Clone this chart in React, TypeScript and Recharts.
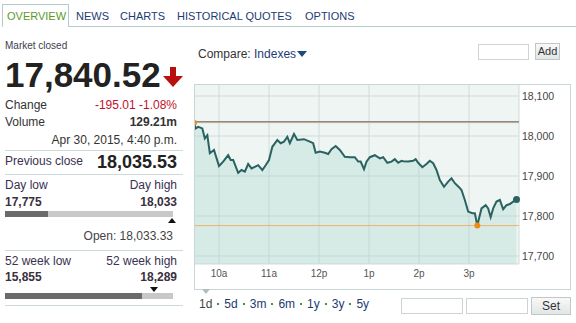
import React from "react";
import {
  AreaChart,
  Area,
  XAxis,
  YAxis,
  CartesianGrid,
  ReferenceLine,
  ReferenceDot,
} from "recharts";

// minutes after the 9:30 open
const minutes = [
  0, 2, 5, 10, 13, 16, 19, 24, 30, 35, 41, 44, 47, 53, 57, 61, 65, 69, 73, 77,
  82, 86, 90, 94, 100, 104, 108, 112, 115, 120, 124, 132, 139, 143, 146, 151,
  157, 161, 165, 170, 175, 181, 187, 193, 197, 200, 204, 207, 211, 217, 223,
  227, 232, 237, 241, 245, 249, 251, 257, 263, 266, 269, 274, 279, 283, 287,
  291, 295, 300, 305, 309, 313, 318, 321, 325, 329, 334, 337, 340, 342, 345,
  350, 353, 356, 359, 363, 367, 371, 375, 379, 383, 387,
];
const prices = [
  18033, 18019, 18023, 18019, 17994, 18002, 17957, 17965, 17925, 17936, 17952,
  17940, 17940, 17908, 17915, 17911, 17930, 17919, 17923, 17927, 17915, 17927,
  17940, 17973, 17990, 17982, 17986, 17998, 17982, 18005, 17990, 17992, 17986,
  17982, 17958, 17961, 17958, 17955, 17967, 17975, 17965, 17948, 17947, 17947,
  17936, 17936, 17917, 17936, 17947, 17952, 17944, 17947, 17933, 17936, 17942,
  17933, 17938, 17937, 17936, 17938, 17942, 17933, 17922, 17930, 17938, 17932,
  17915, 17890, 17873, 17886, 17894, 17882, 17872, 17865, 17840, 17811, 17807,
  17807, 17776, 17794, 17819, 17827, 17819, 17797, 17819, 17836, 17840, 17817,
  17827, 17830, 17836, 17841,
];

const timeTicks = [30, 90, 150, 210, 270, 330];
const timeLabels = ["10a", "11a", "12p", "1p", "2p", "3p"];
const priceTicks = [17700, 17800, 17900, 18000, 18100];

const previousClose = 18035.53;
const dayHigh = 18033.33;
const dayLow = 17776;
const lowMinute = 340;

const tabs = ["OVERVIEW", "NEWS", "CHARTS", "HISTORICAL QUOTES", "OPTIONS"];
const tabX = [7, 76, 120, 177, 305];
const ranges = ["1d", "5d", "3m", "6m", "1y", "3y", "5y"];

const FONT = '"Liberation Sans", Arial, sans-serif';

function T({
  x,
  r,
  y,
  size = 12,
  color = "#333",
  bold = false,
  children,
}: {
  x?: number;
  r?: number;
  y: number;
  size?: number;
  color?: string;
  bold?: boolean;
  children: React.ReactNode;
}) {
  const lh = Math.round(size * 1.2);
  const style: React.CSSProperties = {
    position: "absolute",
    top: y - lh / 2,
    lineHeight: lh + "px",
    fontSize: size,
    color,
    fontWeight: bold ? "bold" : "normal",
    whiteSpace: "nowrap",
  };
  if (r !== undefined) style.right = 576 - r;
  else style.left = x;
  return <div style={style}>{children}</div>;
}

function Rule({ y }: { y: number }) {
  return (
    <div
      style={{
        position: "absolute",
        left: 5,
        top: y,
        width: 178,
        height: 1,
        background: "#cddada",
      }}
    />
  );
}

export default function App() {
  const data = minutes.map((m, i) => ({ m, price: prices[i] }));
  const last = data[data.length - 1];

  return (
    <div
      style={{
        position: "absolute",
        left: 0,
        top: 0,
        width: 576,
        height: 323,
        background: "#fff",
        fontFamily: FONT,
        overflow: "hidden",
      }}
    >
      {/* Tabs */}
      <div
        style={{
          position: "absolute",
          left: 69,
          top: 26,
          width: 507,
          height: 1,
          background: "#b3cbcb",
        }}
      />
      <div
        style={{
          position: "absolute",
          left: 2,
          top: 4,
          width: 67,
          height: 23,
          boxSizing: "border-box",
          border: "1px solid #b3cbcb",
          borderBottom: "none",
          background: "#fff",
        }}
      />
      {tabs.map((t, i) => (
        <T key={t} x={tabX[i]} y={16} size={11} color={i === 0 ? "#5a9a2a" : "#1d3b72"}>
          {t}
        </T>
      ))}

      {/* Quote panel */}
      <T x={5} y={46} size={10} color="#3d3d50">
        Market closed
      </T>
      <T x={5} y={75} size={35} bold color="#222">
        17,840.52
      </T>
      <svg
        style={{ position: "absolute", left: 162, top: 66 }}
        width={22}
        height={22}
      >
        <rect x={8} y={1} width={6} height={11} fill="#b80f0f" />
        <polygon points="1,10 21,10 11,21" fill="#b80f0f" />
      </svg>
      <T x={5} y={105}>Change</T>
      <T r={177} y={105} color="#c4102c">
        -195.01 -1.08%
      </T>
      <T x={5} y={122}>Volume</T>
      <T r={177} y={122} bold>
        129.21m
      </T>
      <T r={177} y={140}>Apr 30, 2015, 4:40 p.m.</T>
      <Rule y={150} />
      <T x={5} y={161} color="#3a3050">
        Previous close
      </T>
      <T r={177} y={162} size={18} bold color="#222">
        18,035.53
      </T>
      <Rule y={174} />
      <T x={5} y={185} color="#3a3050">
        Day low
      </T>
      <T r={177} y={185} color="#3a3050">
        Day high
      </T>
      <T x={5} y={202} bold color="#3a3040">
        17,775
      </T>
      <T r={177} y={202} bold color="#3a3040">
        18,033
      </T>
      <div style={{ position: "absolute", left: 5, top: 211, width: 168, height: 6, background: "#c8c8c8" }} />
      <div style={{ position: "absolute", left: 5, top: 211, width: 43, height: 6, background: "#6a6a6a" }} />
      <svg style={{ position: "absolute", left: 167, top: 218 }} width={10} height={6}>
        <polygon points="1,5 9,5 5,0" fill="#111" />
      </svg>
      <T r={173} y={236} color="#444">
        Open: 18,033.33
      </T>
      <Rule y={250} />
      <T x={5} y={261} color="#3a3050">
        52 week low
      </T>
      <T r={177} y={261} color="#3a3050">
        52 week high
      </T>
      <T x={5} y={277} bold color="#3a3040">
        15,855
      </T>
      <T r={177} y={277} bold color="#3a3040">
        18,289
      </T>
      <svg style={{ position: "absolute", left: 149, top: 287 }} width={10} height={6}>
        <polygon points="1,0 9,0 5,5" fill="#111" />
      </svg>
      <div style={{ position: "absolute", left: 5, top: 293, width: 168, height: 6, background: "#c8c8c8" }} />
      <div style={{ position: "absolute", left: 5, top: 293, width: 137, height: 6, background: "#6a6a6a" }} />
      <Rule y={305} />

      {/* Compare controls */}
      <div
        style={{
          position: "absolute",
          left: 198,
          top: 47,
          fontSize: 12,
          lineHeight: "14px",
          color: "#333",
          whiteSpace: "nowrap",
        }}
      >
        Compare: <span style={{ color: "#1d3b72" }}>Indexes</span>
        <svg width={11} height={7} style={{ marginLeft: 1 }}>
          <polygon points="0,0 10,0 5,6" fill="#1d4a7a" />
        </svg>
      </div>
      <div
        style={{
          position: "absolute",
          left: 478,
          top: 44,
          width: 51,
          height: 16,
          boxSizing: "border-box",
          border: "1px solid #ccd4d4",
        }}
      />
      <div
        style={{
          position: "absolute",
          left: 535,
          top: 43,
          width: 25,
          height: 17,
          boxSizing: "border-box",
          border: "1px solid #c0c8c8",
          background: "linear-gradient(#f8f8f8, #e2e6e6)",
          fontSize: 11,
          lineHeight: "15px",
          textAlign: "center",
          color: "#333",
        }}
      >
        Add
      </div>

      {/* Chart */}
      <div style={{ position: "absolute", left: 194, top: 84 }}>
        <AreaChart
          width={376}
          height={205}
          data={data}
          margin={{ top: 0, right: 0, bottom: 0, left: 0 }}
        >
          <CartesianGrid stroke="#d0dcd9" fill="#eef5f2" />
          <XAxis
            dataKey="m"
            type="number"
            domain={[0, 390]}
            ticks={timeTicks}
            tickFormatter={(v: number) => timeLabels[timeTicks.indexOf(v)]}
            height={25}
            axisLine={false}
            tickLine={false}
            tickSize={0}
            tickMargin={6}
            tick={{ fontSize: 10, fill: "#555", fontFamily: FONT }}
          />
          <YAxis
            orientation="right"
            domain={[17680, 18130]}
            ticks={priceTicks}
            tickFormatter={(v: number) => v.toLocaleString("en-US")}
            width={51}
            axisLine={false}
            tickLine={false}
            tickSize={0}
            tickMargin={3}
            tick={{ fontSize: 10.5, fill: "#444", fontFamily: FONT }}
          />
          <Area
            type="linear"
            dataKey="price"
            stroke="#2a6262"
            strokeWidth={2}
            fill="rgb(168,214,208)"
            fillOpacity={0.35}
            isAnimationActive={false}
            dot={false}
            activeDot={false}
          />
          <ReferenceLine y={dayHigh} stroke="#f0b462" strokeWidth={1} strokeOpacity={0.6} />
          <ReferenceLine y={previousClose} stroke="#8a8a8a" strokeWidth={1.5} />
          <ReferenceLine y={dayLow} stroke="#f0b462" strokeWidth={1} />
          <ReferenceDot x={0} y={prices[0]} r={3} fill="#f08a10" stroke="none" />
          <ReferenceDot x={lowMinute} y={dayLow} r={3} fill="#f08a10" stroke="none" />
          <ReferenceDot x={last.m} y={last.price} r={3.5} fill="#2a6262" stroke="none" />
        </AreaChart>
      </div>
      <div
        style={{
          position: "absolute",
          left: 194,
          top: 84,
          width: 377,
          height: 206,
          boxSizing: "border-box",
          border: "1px solid #c8d6d6",
          pointerEvents: "none",
        }}
      />

      {/* Range selector */}
      <svg style={{ position: "absolute", left: 202, top: 289 }} width={9} height={6}>
        <polygon points="0,0 8,0 4,5" fill="#b0bcbc" />
      </svg>
      <div
        style={{
          position: "absolute",
          left: 199,
          top: 297,
          fontSize: 12,
          lineHeight: "14px",
          whiteSpace: "nowrap",
          display: "flex",
          alignItems: "center",
        }}
      >
        {ranges.map((r, i) => (
          <React.Fragment key={r}>
            {i > 0 && (
              <span
                style={{
                  display: "inline-block",
                  width: 2,
                  height: 2,
                  background: "#3a9a3a",
                  margin: "0 5px",
                }}
              />
            )}
            <span style={{ color: i === 0 ? "#444" : "#1d3b72" }}>{r}</span>
          </React.Fragment>
        ))}
      </div>
      <div
        style={{
          position: "absolute",
          left: 401,
          top: 298,
          width: 62,
          height: 16,
          boxSizing: "border-box",
          border: "1px solid #ccd4d4",
        }}
      />
      <div
        style={{
          position: "absolute",
          left: 466,
          top: 298,
          width: 62,
          height: 16,
          boxSizing: "border-box",
          border: "1px solid #ccd4d4",
        }}
      />
      <div
        style={{
          position: "absolute",
          left: 531,
          top: 297,
          width: 40,
          height: 18,
          boxSizing: "border-box",
          border: "1px solid #c0c8c8",
          background: "linear-gradient(#f8f8f8, #e2e6e6)",
          fontSize: 12,
          lineHeight: "16px",
          textAlign: "center",
          color: "#333",
        }}
      >
        Set
      </div>
    </div>
  );
}
